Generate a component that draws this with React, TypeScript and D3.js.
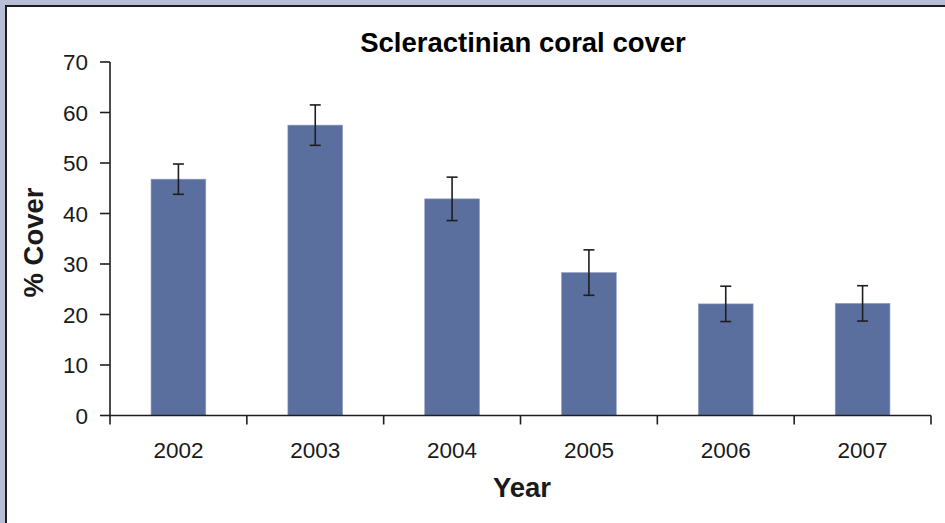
import React from "react";
import * as d3 from "d3";

const years = ["2002", "2003", "2004", "2005", "2006", "2007"];
const cover = [46.8, 57.5, 42.9, 28.3, 22.1, 22.2];
const errors = [3.0, 4.0, 4.3, 4.5, 3.5, 3.5];
const yTicks = [0, 10, 20, 30, 40, 50, 60, 70];

const W = 945;
const H = 523;
const margin = { top: 62, right: 14, bottom: 107.5, left: 110 };

export default function App() {
  const x = d3
    .scaleBand<string>()
    .domain(years)
    .range([margin.left, W - margin.right])
    .padding(0);

  const y = d3
    .scaleLinear()
    .domain([0, 70])
    .range([H - margin.bottom, margin.top]);

  const barW = x.bandwidth() * 0.4;
  const y0 = y(0);
  const font = "'Liberation Sans', Arial, sans-serif";
  const ink = "#1e1e1e";

  return (
    <div style={{ position: "absolute", left: 0, top: 0 }}>
      <svg width={W} height={H} style={{ display: "block" }} fontFamily={font}>
        {/* frame */}
        <rect x={0} y={0} width={W} height={H} fill="#b8bed5" />
        <rect x={6} y={6} width={W + 10} height={H + 10} fill="#fff" stroke="#1c1c1c" strokeWidth={2} />

        <text x={523} y={52} textAnchor="middle" fontSize={27.5} fontWeight="bold" fill="#000">
          Scleractinian coral cover
        </text>

        {/* bars */}
        {years.map((yr, i) => {
          const cx = x(yr)! + x.bandwidth() / 2;
          return (
            <rect
              key={yr}
              x={cx - barW / 2}
              y={y(cover[i])}
              width={barW}
              height={y0 - y(cover[i])}
              fill="#5b6f9e"
              stroke="#8e9cc0"
              strokeWidth={0.6}
            />
          );
        })}

        {/* error bars */}
        {years.map((yr, i) => {
          const cx = x(yr)! + x.bandwidth() / 2;
          const hi = y(cover[i] + errors[i]);
          const lo = y(cover[i] - errors[i]);
          return (
            <g key={"e" + yr} stroke={ink} strokeWidth={1.6}>
              <line x1={cx} x2={cx} y1={hi} y2={lo} />
              <line x1={cx - 5.5} x2={cx + 5.5} y1={hi} y2={hi} />
              <line x1={cx - 5.5} x2={cx + 5.5} y1={lo} y2={lo} />
            </g>
          );
        })}

        {/* y axis */}
        <line x1={margin.left} x2={margin.left} y1={y(70)} y2={y0 + 9} stroke={ink} strokeWidth={1.6} />
        {yTicks.map((t) => (
          <g key={t}>
            <line x1={margin.left - 10} x2={margin.left} y1={y(t)} y2={y(t)} stroke={ink} strokeWidth={1.6} />
            <text x={88} y={y(t) + 8} textAnchor="end" fontSize={22.5} fill="#1a1a1a">
              {t}
            </text>
          </g>
        ))}

        {/* x axis */}
        <line x1={margin.left} x2={W - margin.right} y1={y0} y2={y0} stroke={ink} strokeWidth={1.6} />
        {years.map((yr) => (
          <line
            key={"t" + yr}
            x1={x(yr)! + x.bandwidth()}
            x2={x(yr)! + x.bandwidth()}
            y1={y0}
            y2={y0 + 9}
            stroke={ink}
            strokeWidth={1.6}
          />
        ))}
        {years.map((yr) => (
          <text
            key={"l" + yr}
            x={x(yr)! + x.bandwidth() / 2}
            y={458}
            textAnchor="middle"
            fontSize={22.5}
            fill="#1a1a1a"
          >
            {yr}
          </text>
        ))}

        <text x={522} y={497} textAnchor="middle" fontSize={27.5} fontWeight="bold" fill="#1a1a1a">
          Year
        </text>
        <text
          transform={`translate(43,${242.5}) rotate(-90)`}
          textAnchor="middle"
          fontSize={27.5}
          fontWeight="bold"
          fill="#1a1a1a"
        >
          % Cover
        </text>
      </svg>
    </div>
  );
}
